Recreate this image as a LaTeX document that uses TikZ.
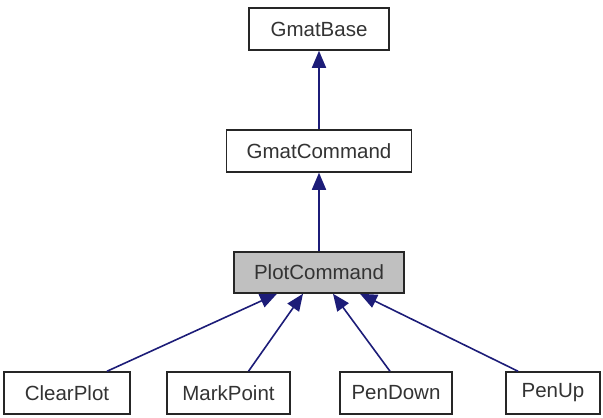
\documentclass[tikz,border=0pt]{standalone}
\usepackage{fontspec}
\setmainfont{Liberation Sans}
\usetikzlibrary{arrows.meta}
\definecolor{edgeblue}{HTML}{1C1C78}
\definecolor{boxgray}{HTML}{C0C0C0}
\tikzset{
  cls/.style={draw=black!85, line width=1.5pt, fill=white, text=black!80,
    font=\fontsize{20.5}{24}\selectfont, inner sep=0pt, anchor=center},
  arr/.style={draw=edgeblue, line width=1.6pt,
    -{Triangle[length=17pt,width=14pt]}}
}
\begin{document}
\begin{tikzpicture}[x=1pt,y=-1pt]
\useasboundingbox (0,0) rectangle (603,418);
\node[cls, minimum width=140pt, minimum height=42pt] (base) at (319,29) {GmatBase};
\node[cls, minimum width=185pt, minimum height=42pt] (cmd) at (319,151) {GmatCommand};
\node[cls, fill=boxgray, minimum width=170pt, minimum height=41pt] (plot) at (319,272.5) {PlotCommand};
\node[cls, minimum width=126pt, minimum height=42pt] (clear) at (67,393) {ClearPlot};
\node[cls, minimum width=123pt, minimum height=42pt] (mark) at (228.5,393) {MarkPoint};
\node[cls, minimum width=112pt, minimum height=42pt] (down) at (396,393) {PenDown};
\node[cls, minimum width=94pt, minimum height=42pt] (up) at (553,393) {PenUp};
\draw[arr] (cmd.north) -- (base.south);
\draw[arr] (plot.north) -- (cmd.south);
\draw[arr] ([xshift=40pt]clear.north) -- ([xshift=-42pt]plot.south);
\draw[arr] ([xshift=20pt]mark.north) -- ([xshift=-16pt]plot.south);
\draw[arr] ([xshift=-6pt]down.north) -- ([xshift=14pt]plot.south);
\draw[arr] ([xshift=-35pt]up.north) -- ([xshift=41pt]plot.south);
\end{tikzpicture}
\end{document}
